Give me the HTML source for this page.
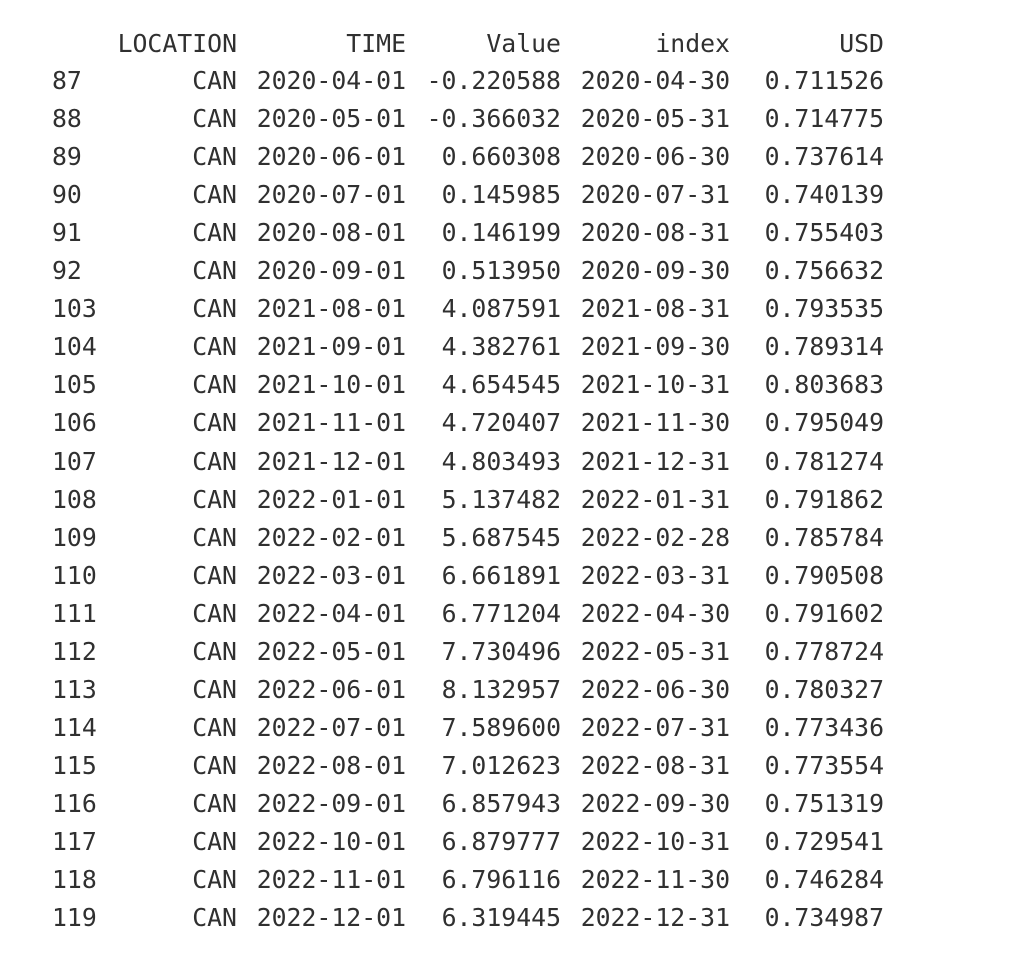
<!DOCTYPE html>
<html><head><meta charset="utf-8"><style>
body{margin:0;background:#fff;width:1018px;height:966px;overflow:hidden;position:relative;font-family:"DejaVu Sans Mono","Liberation Mono",monospace;font-size:24.8px;color:#303030}
.c{position:absolute;white-space:pre;line-height:30px;height:30px}
.r{text-align:right}
</style></head><body>
<script>
const idx=[87,88,89,90,91,92,103,104,105,106,107,108,109,110,111,112,113,114,115,116,117,118,119];
const times=["2020-04-01","2020-05-01","2020-06-01","2020-07-01","2020-08-01","2020-09-01","2021-08-01","2021-09-01","2021-10-01","2021-11-01","2021-12-01","2022-01-01","2022-02-01","2022-03-01","2022-04-01","2022-05-01","2022-06-01","2022-07-01","2022-08-01","2022-09-01","2022-10-01","2022-11-01","2022-12-01"];
const vals=["-0.220588","-0.366032","0.660308","0.145985","0.146199","0.513950","4.087591","4.382761","4.654545","4.720407","4.803493","5.137482","5.687545","6.661891","6.771204","7.730496","8.132957","7.589600","7.012623","6.857943","6.879777","6.796116","6.319445"];
const idxDates=["2020-04-30","2020-05-31","2020-06-30","2020-07-31","2020-08-31","2020-09-30","2021-08-31","2021-09-30","2021-10-31","2021-11-30","2021-12-31","2022-01-31","2022-02-28","2022-03-31","2022-04-30","2022-05-31","2022-06-30","2022-07-31","2022-08-31","2022-09-30","2022-10-31","2022-11-30","2022-12-31"];
const usd=["0.711526","0.714775","0.737614","0.740139","0.755403","0.756632","0.793535","0.789314","0.803683","0.795049","0.781274","0.791862","0.785784","0.790508","0.791602","0.778724","0.780327","0.773436","0.773554","0.751319","0.729541","0.746284","0.734987"];
const headers=["LOCATION","TIME","Value","index","USD"];
const rights=[237,406,561,730,884];
function cell(txt,x,y,right,name){
  const d=document.createElement('div');
  d.className='c'+(right?' r':'');
  d.textContent=txt;
  if(right){d.style.right=(1018-x)+'px';}else{d.style.left=x+'px';}
  d.style.top=(y-14)+'px';
  
  
  document.body.appendChild(d);
}
headers.forEach((h,i)=>cell(h,rights[i],43,true,'column-header-'+h.toLowerCase()));
idx.forEach((v,i)=>{
  const y=80+i*38.05;
  cell(String(v),52,y,false,'row-index');
  cell('CAN',rights[0],y,true,'location-cell');
  cell(times[i],rights[1],y,true,'time-cell');
  cell(vals[i],rights[2],y,true,'value-cell');
  cell(idxDates[i],rights[3],y,true,'index-date-cell');
  cell(usd[i],rights[4],y,true,'usd-cell');
});
</script>
</body></html>
